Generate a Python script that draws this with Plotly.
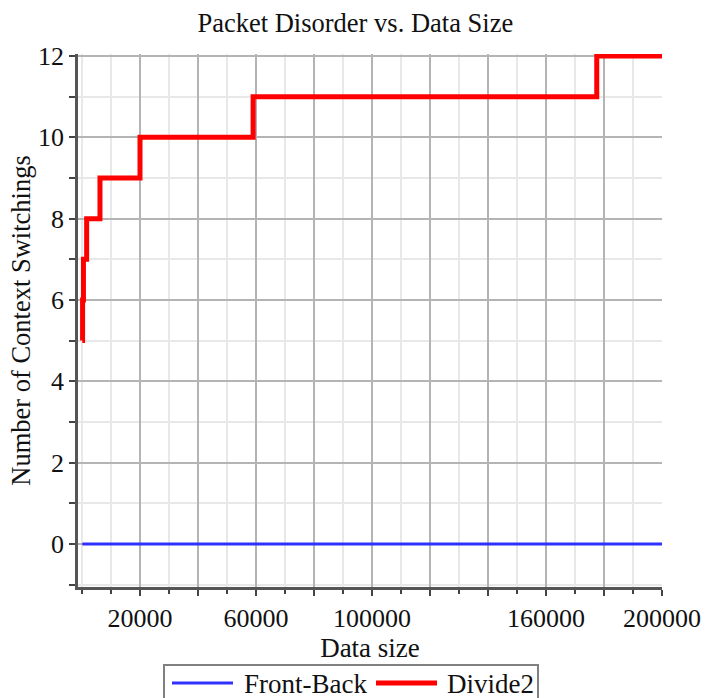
import plotly.graph_objects as go

# Data
data_size = [100, 200, 500, 1600, 6200, 20000, 59000, 177500, 200000]
divide2 = [5, 6, 7, 8, 9, 10, 11, 12, 12]
front_back_x = [100, 200000]
front_back = [0, 0]

x_tickvals = [20000, 40000, 60000, 80000, 100000, 120000, 140000, 160000, 180000, 200000]
x_ticktext = ["20000", "", "60000", "", "100000", "", "", "160000", "", "200000"]
y_tickvals = [0, 2, 4, 6, 8, 10, 12]

series_names = ["Front-Back", "Divide2"]
series_colors = ["#3030ff", "#ff0000"]
series_widths = [3, 5]

FONT = "Liberation Serif"

# plot area in pixels (for placing the legend box below it)
W, H = 705, 698
ML, MR, MT, MB = 78, 43, 54, 111
PW, PH = W - ML - MR, H - MT - MB


def px_x(px):
    return (px - ML) / PW


def px_y(py):
    return (H - MB - py) / PH


fig = go.Figure()
fig.add_trace(go.Scatter(
    x=front_back_x, y=front_back, mode="lines", name=series_names[0],
    line=dict(color=series_colors[0], width=series_widths[0]), showlegend=False,
))
fig.add_trace(go.Scatter(
    x=data_size, y=divide2, mode="lines", name=series_names[1],
    line=dict(color=series_colors[1], width=series_widths[1], shape="hv"), showlegend=False,
))

# legend box (drawn as decoration below the plot)
shapes = [dict(type="rect", xref="paper", yref="paper",
               x0=px_x(164), x1=px_x(538), y0=px_y(665), y1=px_y(706),
               line=dict(color="#808080", width=2), fillcolor="white", layer="above")]
annotations = []
legend_items = [(172, 233, 242), (376, 437, 445)]
for (l0, l1, tx), name, col, wd in zip(legend_items, series_names, series_colors, series_widths):
    shapes.append(dict(type="line", xref="paper", yref="paper",
                       x0=px_x(l0), x1=px_x(l1), y0=px_y(683), y1=px_y(683),
                       line=dict(color=col, width=wd), layer="above"))
    annotations.append(dict(text=name, xref="paper", yref="paper", x=px_x(tx), y=px_y(684),
                            xanchor="left", yanchor="middle", showarrow=False,
                            font=dict(family=FONT, size=27, color="#111111")))

fig.update_layout(
    width=W, height=H,
    margin=dict(l=ML, r=MR, t=MT, b=MB, autoexpand=False),
    paper_bgcolor="white", plot_bgcolor="white",
    font=dict(family=FONT, size=26, color="#111111"),
    title=dict(text="Packet Disorder vs. Data Size", x=0.504, xanchor="center", xref="container",
               y=0.968, yanchor="middle", yref="container",
               font=dict(family=FONT, size=26.5, color="#111111")),
    showlegend=False,
    shapes=shapes,
    annotations=annotations,
)

fig.update_xaxes(
    range=[-1380, 200000], automargin=False,
    tickmode="array", tickvals=x_tickvals, ticktext=x_ticktext,
    ticks="outside", ticklen=6, tickwidth=2, tickcolor="#444444",
    showline=True, linecolor="#555555", linewidth=2.5,
    showgrid=True, gridcolor="#b4b4b4", gridwidth=1.5,
    zeroline=False,
    minor=dict(dtick=10000, tick0=0, ticks="outside", ticklen=4, tickwidth=2,
               tickcolor="#444444", showgrid=True, gridcolor="#e8e8e8", gridwidth=1.5),
    title=dict(text="Data size", standoff=0, font=dict(family=FONT, size=27)),
    tickfont=dict(family=FONT, size=26),
)
fig.update_yaxes(
    range=[-1.06, 12.05], automargin=False,
    tickmode="array", tickvals=y_tickvals,
    ticks="outside", ticklen=6, tickwidth=2, tickcolor="#444444",
    showline=True, linecolor="#555555", linewidth=2.5,
    showgrid=True, gridcolor="#b4b4b4", gridwidth=1.5,
    zeroline=False,
    minor=dict(dtick=1, tick0=0, ticks="outside", ticklen=6, tickwidth=2,
               tickcolor="#444444", showgrid=True, gridcolor="#e8e8e8", gridwidth=1.5),
    title=dict(text="Number of Context Switchings", standoff=0, font=dict(family=FONT, size=26.5)),
    tickfont=dict(family=FONT, size=26),
)

fig.write_html("out.html")
